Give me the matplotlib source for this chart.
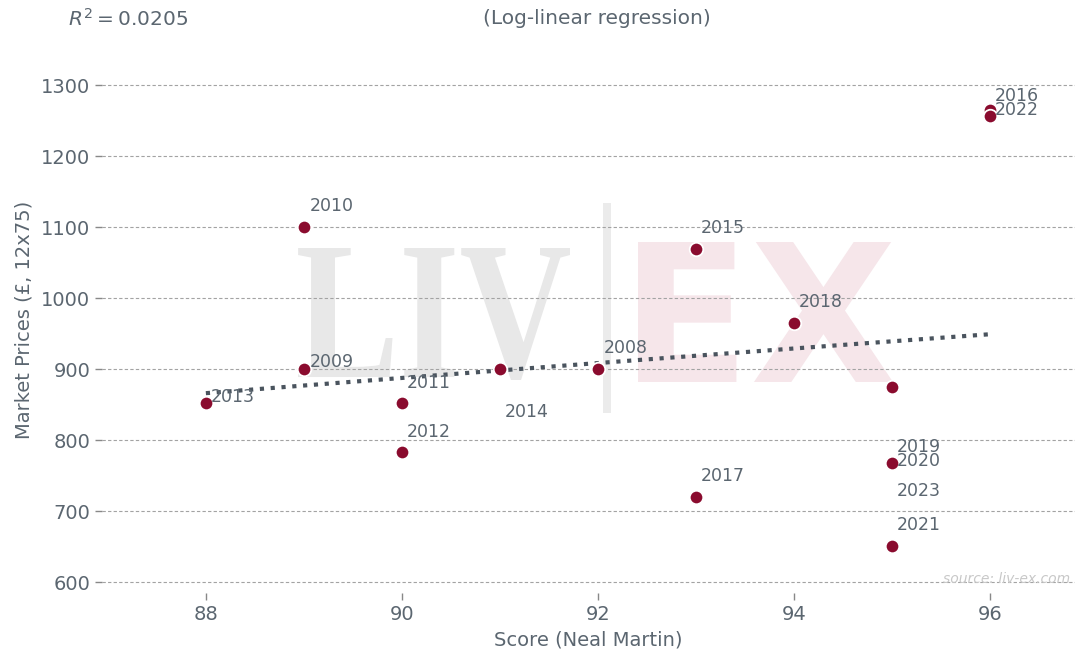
import numpy as np
import matplotlib
matplotlib.use("Agg")
import matplotlib.pyplot as plt
from matplotlib.textpath import TextPath
from matplotlib.patches import PathPatch, Rectangle
from matplotlib.font_manager import FontProperties
from matplotlib.transforms import Affine2D

# vintage data: Neal Martin score vs market price (GBP, 12x75)
years = ["2008", "2009", "2010", "2011", "2012", "2013", "2014", "2015",
         "2016", "2017", "2018", "2019", "2020", "2021", "2022", "2023"]
scores = [92, 89, 89, 90, 90, 88, 91, 93, 96, 93, 94, 95, 95, 95, 96, 95]
prices = [900, 900, 1100, 852, 783, 853, 900, 1070, 1265, 720, 965, 770, 768, 651, 1256, 875]
r_squared = 0.0205

# label offsets in pixels (layout only)
label_off = {"2008": (6, 21), "2009": (6, 7), "2010": (6, 21), "2011": (5, 20),
             "2012": (5, 20), "2013": (5, 6), "2014": (5, -43), "2015": (5, 21),
             "2016": (5, 14), "2017": (5, 21), "2018": (5, 21), "2019": (5, 15),
             "2020": (5, 2), "2021": (5, 21), "2022": (5, 6), "2023": (5, -104)}

txt = "#5b6670"
maroon = "#8a0b2e"
W, H = 1078, 659

fig = plt.figure(figsize=(W / 100, H / 100), dpi=100)
ax = fig.add_axes([102 / W, 0.1, 973 / W, 0.83])


def watermark(s, prop, x0, x1, ytop, ybot, color):
    # squeeze text outline into a pixel box (pixels from top-left)
    p = TextPath((0, 0), s, size=100, prop=prop)
    ext = p.get_extents()
    sx = (x1 - x0) / W / ext.width
    sy = (ybot - ytop) / H / ext.height
    tr = Affine2D().translate(-ext.x0, -ext.y0).scale(sx, sy).translate(x0 / W, 1 - ybot / H)
    ax.add_patch(PathPatch(tr.transform_path(p), transform=fig.transFigure, fc=color,
                           ec="none", zorder=0.1, clip_on=False))


watermark("LIV", FontProperties(family="Liberation Serif", weight="bold"), 298, 570, 248, 380, "#e8e8e8")
watermark("EX", FontProperties(family="DejaVu Sans", weight="bold"), 638, 893, 242, 382, "#f6e6ea")
ax.add_patch(Rectangle((603 / W, 1 - 413 / H), 8 / W, 210 / H, transform=fig.transFigure,
                       fc="#ebebeb", ec="none", zorder=0.1, clip_on=False))

# log-linear fit
x = np.array(scores, dtype=float)
y = np.array(prices, dtype=float)
b, a = np.polyfit(np.log(x), y, 1)
xs = np.linspace(x.min(), x.max(), 50)
ax.plot(xs, a + b * np.log(xs), ls=(0, (1, 1.6)), lw=3, color="#4a545e", zorder=3)

ax.scatter(scores, prices, s=95, color=maroon, edgecolor="white", linewidth=1.3, zorder=4)
for yr, sc, pr in zip(years, scores, prices):
    ax.annotate(yr, (sc, pr), xytext=label_off[yr], textcoords="offset pixels",
                ha="left", va="center", fontsize=12.5, color=txt, zorder=5)

ax.set_xlim(86.94, 96.87)
ax.set_ylim(585, 1355)
ax.set_xticks([88, 90, 92, 94, 96])
ax.set_yticks(range(600, 1301, 100))
ax.grid(axis="y", ls=(0, (3, 2)), color="#a3a3a3", lw=0.8)
ax.set_axisbelow(True)
for s in ax.spines.values():
    s.set_visible(False)
ax.tick_params(colors="#888888", labelcolor=txt, labelsize=14, length=5, width=1)

ax.set_xlabel("Score (Neal Martin)", fontsize=14, color=txt, labelpad=5)
ax.set_ylabel("Market Prices (£, 12x75)", fontsize=14, color=txt, labelpad=5)
fig.text(0.554, 0.972, "(Log-linear regression)", fontsize=14.5, color=txt, ha="center", va="center")
fig.text(0.063, 0.972, r"$R^2 = %.4f$" % r_squared, fontsize=14.5, color=txt, ha="left", va="center")
ax.text(0.995, 0.025, "source: liv-ex.com", transform=ax.transAxes, ha="right", va="center",
        fontsize=10, style="italic", color="#c8c8c8")

fig.savefig("out.png", dpi=100)
